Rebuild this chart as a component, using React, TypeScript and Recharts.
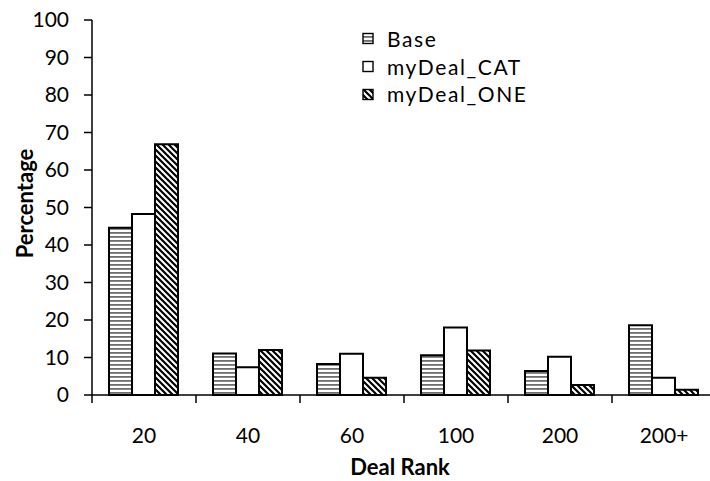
import React from 'react';
import { BarChart, Bar, XAxis, YAxis } from 'recharts';

const categories = ['20', '40', '60', '100', '200', '200+'];
const baseValues = [44.6, 11.1, 8.3, 10.6, 6.4, 18.6];
const catValues = [48.3, 7.4, 11.0, 18.0, 10.2, 4.6];
const oneValues = [66.9, 12.0, 4.6, 11.9, 2.7, 1.4];
const yTicks = [0, 10, 20, 30, 40, 50, 60, 70, 80, 90, 100];
const seriesNames = ['Base', 'myDeal_CAT', 'myDeal_ONE'];
const seriesFills = ['url(#hstripe)', '#fff', 'url(#dhatch)'];

const data = categories.map((rank, i) => ({
  rank,
  Base: baseValues[i],
  myDeal_CAT: catValues[i],
  myDeal_ONE: oneValues[i],
}));

const FONT = 'Lato, "Open Sans", sans-serif';
const CHART_W = 716;
const CHART_H = 481;
const LEFT = 92;
const TOP = 20;
const PLOT_H = 375;
const BAND = (CHART_W - LEFT) / categories.length;

// category label in the middle, tick mark on the left boundary of the band
const RankTick = (props: any) => {
  const { x, payload } = props;
  const axisY = TOP + PLOT_H;
  const edge = x - BAND / 2;
  return (
    <g>
      <line x1={edge} x2={edge} y1={axisY} y2={axisY + 8} stroke="#000" strokeWidth={1.5} />
      <text x={x} y={axisY + 48} textAnchor="middle" fill="#000" fontSize={21} fontFamily={FONT}>
        {payload.value}
      </text>
    </g>
  );
};

const YTitle = () => (
  <text
    transform={`translate(33, ${TOP + PLOT_H / 2 - 4}) rotate(-90)`}
    textAnchor="middle"
    fontSize={22}
    fontWeight="bold"
    fontFamily={FONT}
    fill="#000"
  >
    Percentage
  </text>
);

const XTitle = () => (
  <text x={LEFT + (CHART_W - LEFT) / 2 - 4} y={475} textAnchor="middle" fontSize={22} fontWeight="bold" fontFamily={FONT} fill="#000">
    Deal Rank
  </text>
);

const LegendBox = () => (
  <div
    style={{
      position: 'absolute',
      left: 362,
      top: 25,
      fontFamily: FONT,
      fontSize: 21,
      letterSpacing: 1.6,
      lineHeight: '27.7px',
      color: '#000',
    }}
  >
    {seriesNames.map((name, i) => (
      <div key={name} style={{ display: 'flex', alignItems: 'center', whiteSpace: 'nowrap' }}>
        <svg width={25} height={13}>
          <rect x={1} y={1.5} width={10} height={10} fill={seriesFills[i]} stroke="#000" strokeWidth={1.4} />
        </svg>
        <span>{name}</span>
      </div>
    ))}
  </div>
);

export default function App() {
  return (
    <div style={{ position: 'absolute', left: 0, top: 0, width: 710, height: 481, overflow: 'hidden', background: '#fff' }}>
      <svg width={0} height={0} style={{ position: 'absolute' }}>
        <defs>
          <pattern id="hstripe" patternUnits="userSpaceOnUse" width={8} height={4}>
            <rect width={8} height={4} fill="#fff" />
            <rect y={0} width={8} height={1.8} fill="#6e6e6e" />
          </pattern>
          <pattern id="dhatch" patternUnits="userSpaceOnUse" width={6} height={6}>
            <rect width={6} height={6} fill="#fff" />
            <path d="M-1,-1 L7,7 M-1,5 L1,7 M5,-1 L7,1" stroke="#000" strokeWidth={2.2} />
          </pattern>
        </defs>
      </svg>
      <BarChart
        width={CHART_W}
        height={CHART_H}
        data={data}
        margin={{ top: TOP, right: 0, bottom: 0, left: 0 }}
        barCategoryGap={17}
        barGap={0}
      >
        <XAxis
          dataKey="rank"
          height={CHART_H - TOP - PLOT_H}
          axisLine={{ stroke: '#000', strokeWidth: 1.5 }}
          tickLine={false}
          tick={<RankTick />}
          interval={0}
          label={<XTitle />}
        />
        <YAxis
          width={LEFT}
          domain={[0, 100]}
          ticks={yTicks}
          interval={0}
          axisLine={{ stroke: '#000', strokeWidth: 1.5 }}
          tickLine={{ stroke: '#000', strokeWidth: 1.5 }}
          tickSize={8}
          tickMargin={15}
          tick={{ fill: '#000', fontSize: 21, fontFamily: FONT }}
          label={<YTitle />}
        />
        <Bar dataKey="Base" fill={seriesFills[0]} stroke="#000" strokeWidth={2} isAnimationActive={false} />
        <Bar dataKey="myDeal_CAT" fill={seriesFills[1]} stroke="#000" strokeWidth={2} isAnimationActive={false} />
        <Bar dataKey="myDeal_ONE" fill={seriesFills[2]} stroke="#000" strokeWidth={2} isAnimationActive={false} />
      </BarChart>
      <LegendBox />
    </div>
  );
}
